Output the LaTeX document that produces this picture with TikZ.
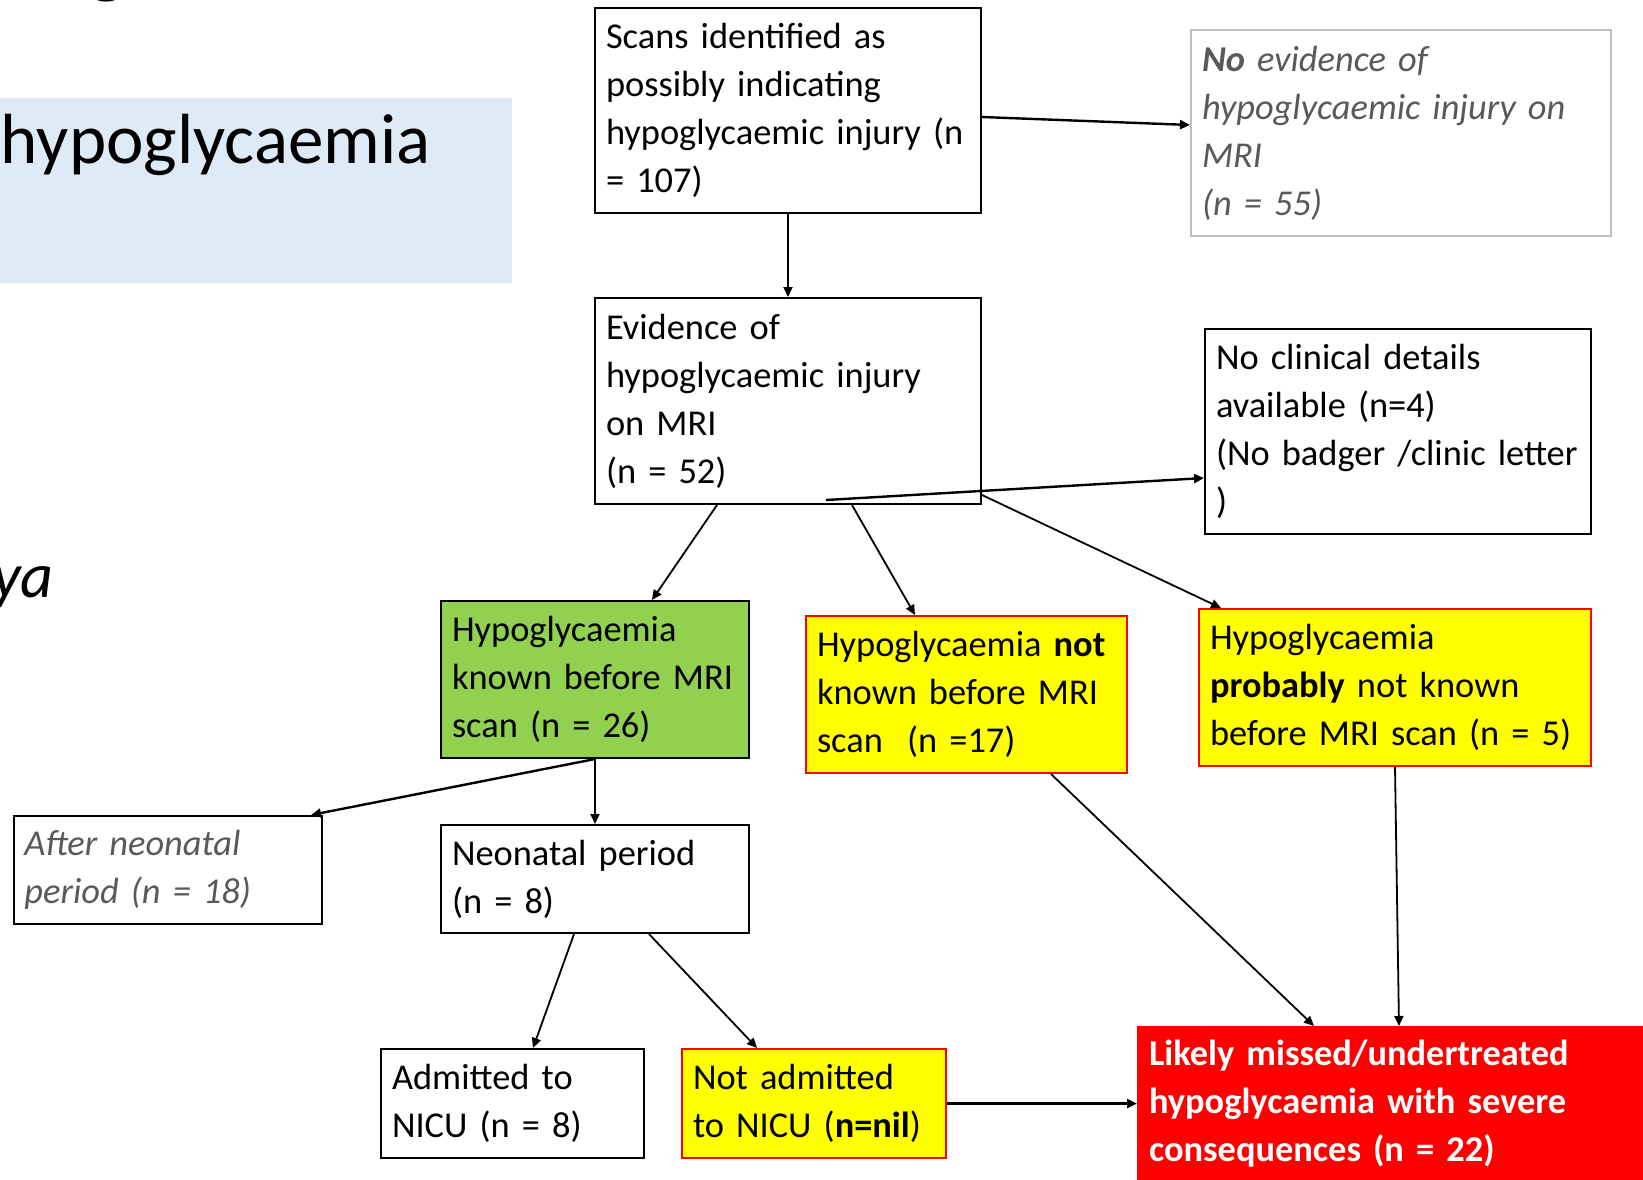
\documentclass[tikz,border=0pt]{standalone}
\usepackage{fontspec}
\setmainfont{Carlito}[WordSpace=0.85]
\usetikzlibrary{arrows.meta,calc}
\definecolor{gbox}{HTML}{92D050}
\definecolor{ybox}{HTML}{FFFF00}
\definecolor{rbox}{HTML}{FF0000}
\definecolor{bluebg}{HTML}{DEEBF7}
\definecolor{dgrey}{HTML}{595959}
\definecolor{lgrey}{HTML}{BFBFBF}
\begin{document}
\begin{tikzpicture}[x=0.5pt,y=-0.5pt,
  txt/.style={font=\fontsize{18.2pt}{24pt}\selectfont},
  itxt/.style={font=\fontsize{18.2pt}{24pt}\selectfont\itshape},
  box/.style={draw=black, line width=1pt, anchor=north west, align=left,
    inner xsep=0pt, inner ysep=0pt, txt,
    execute at begin node={\leftskip=5.5pt\relax}},
  greybox/.style={box, itxt, text=dgrey},
  yellowbox/.style={box, fill=ybox, draw=rbox},
  arr/.style={-{Triangle[length=5pt,width=4.5pt]}, line width=0.9pt},
  thickarr/.style={arr, line width=1.2pt},
]
\useasboundingbox (0,0) rectangle (1643,1179);

% background fragments of the slide
\fill[bluebg] (0,98) rectangle (512,283);
\node[anchor=base east, inner sep=0pt, font=\fontsize{35.5pt}{40pt}\selectfont] (title) at (431,163) {hypoglycaemia};
\node[anchor=base east, inner sep=0pt, font=\fontsize{32pt}{36pt}\selectfont\itshape] (author) at (54,597) {ya};
\node[anchor=base, inner sep=0pt, font=\fontsize{40pt}{44pt}\selectfont\bfseries] (topg) at (107,-12) {g};

% boxes
\node[box, text width=193pt, minimum height=102.5pt] (A) at (594,7)
  {Scans identified as\\possibly indicating\\hypoglycaemic injury (n\\= 107)};
\node[greybox, draw=lgrey, text width=210pt, minimum height=103pt] (B) at (1190,29)
  {\textbf{No} evidence of\\hypoglycaemic injury on\\MRI\\(n = 55)};
\node[box, text width=193pt, minimum height=103pt] (C) at (594,297)
  {Evidence of\\hypoglycaemic injury\\on MRI\\(n = 52)};
\node[box, text width=193pt, minimum height=102.5pt] (D) at (1204,328)
  {No clinical details\\available (n=4)\\(No badger /clinic letter\\)};
\node[box, fill=gbox, text width=154pt, minimum height=78.5pt] (E) at (440,600)
  {Hypoglycaemia\\known before MRI\\scan (n = 26)};
\node[yellowbox, text width=160.5pt, minimum height=78.5pt] (F) at (805,615)
  {Hypoglycaemia \textbf{not}\\known before MRI\\scan\ \ (n =17)};
\node[yellowbox, text width=196pt, minimum height=78.5pt] (G) at (1198,608)
  {Hypoglycaemia\\\textbf{probably} not known\\before MRI scan (n = 5)};
\node[greybox, text width=154.25pt, minimum height=54pt] (H) at (12.5,815)
  {After neonatal\\period (n = 18)};
\node[box, text width=154pt, minimum height=54pt] (I) at (440,824)
  {Neonatal period\\(n = 8)};
\node[box, text width=131.5pt, minimum height=54.5pt] (J) at (380,1048)
  {Admitted to\\NICU (n = 8)};
\node[yellowbox, text width=132pt, minimum height=54.5pt] (K) at (681,1048)
  {Not admitted\\to NICU (\textbf{n=nil})};
\node[box, fill=rbox, draw=rbox, text=white, font=\fontsize{18.2pt}{24pt}\selectfont\bfseries,
  text width=265pt, minimum height=77pt] (L) at (1137,1026)
  {Likely missed/undertreated\\hypoglycaemia with severe\\consequences (n = 22)};

% connectors
\draw[thickarr] ([yshift=-3.25pt]A.east) -- ([yshift=4pt]B.west);
\draw[arr] (A.south) -- (C.north);
\draw[thickarr] ([xshift=19pt,yshift=2.5pt]C.south) -- ([yshift=28.5pt]D.south west);
\draw[arr] ([xshift=-35.5pt]C.south) -- ([xshift=28.5pt]E.north);
\draw[arr] ([xshift=32pt]C.south) -- ([xshift=-25.75pt]F.north);
\draw[arr] ([yshift=5pt]C.south east) -- ([xshift=11.5pt]G.north west);
\draw[thickarr] (E.south) -- ([xshift=-6pt]H.north east);
\draw[arr] (E.south) -- (I.north);
\draw[arr] ([xshift=-10.5pt]I.south) -- ([xshift=10.25pt]J.north);
\draw[arr] ([xshift=27pt]I.south) -- ([xshift=-28.5pt]K.north);
\draw[thickarr] (K.east) -- (K.east -| L.west);
\draw[arr] ([xshift=42.25pt]F.south) -- ([xshift=88.5pt]L.north west);
\draw[arr] (G.south) -- ([xshift=131pt]L.north west);
\end{tikzpicture}
\end{document}
